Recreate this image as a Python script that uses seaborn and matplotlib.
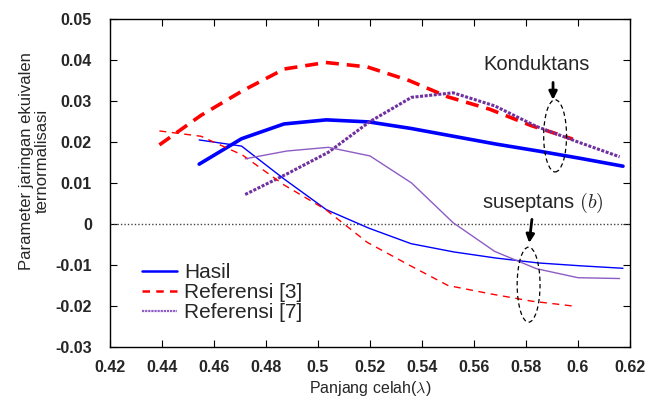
import numpy as np
import pandas as pd
import matplotlib
matplotlib.use("Agg")
import matplotlib.pyplot as plt
import seaborn as sns
from matplotlib.lines import Line2D
from matplotlib.patches import Ellipse

# ---------------- data ----------------
hasil_x = [0.4543, 0.4706, 0.4869, 0.5032, 0.5195, 0.5358, 0.5521, 0.5684, 0.5847, 0.6010, 0.6173]
hasil_g = [0.0146, 0.0208, 0.0244, 0.0254, 0.0249, 0.0233, 0.0214, 0.0195, 0.0178, 0.0160, 0.0141]
hasil_b = [0.0205, 0.0190, 0.0110, 0.0035, -0.0010, -0.0048, -0.0068, -0.0083, -0.0095, -0.0102, -0.0108]

ref3_x = [0.439, 0.455, 0.471, 0.487, 0.503, 0.519, 0.535, 0.550, 0.566, 0.582, 0.598]
ref3_g = [0.0193, 0.0265, 0.0325, 0.0378, 0.0394, 0.0383, 0.0350, 0.0310, 0.0280, 0.0240, 0.0207]
ref3_b = [0.0227, 0.0214, 0.0168, 0.0095, 0.0035, -0.0045, -0.0100, -0.0150, -0.0170, -0.0188, -0.0200]

ref7_x = [0.472, 0.488, 0.504, 0.520, 0.536, 0.552, 0.568, 0.584, 0.600, 0.616]
ref7_g = [0.0072, 0.0122, 0.0175, 0.0250, 0.0309, 0.0320, 0.0288, 0.0238, 0.0200, 0.0164]
ref7_b = [0.0159, 0.0178, 0.0187, 0.0166, 0.0100, 0.0003, -0.0067, -0.0109, -0.0131, -0.0133]

series_labels = ["Hasil", "Referensi [3]", "Referensi [7]"]
x_ticks = [0.42, 0.44, 0.46, 0.48, 0.5, 0.52, 0.54, 0.56, 0.58, 0.6, 0.62]
x_tick_labels = ["0.42", "0.44", "0.46", "0.48", "0.5", "0.52", "0.54", "0.56", "0.58", "0.6", "0.62"]
y_ticks = [-0.03, -0.02, -0.01, 0.0, 0.01, 0.02, 0.03, 0.04, 0.05]
y_tick_labels = ["-0.03", "-0.02", "-0.01", "0", "0.01", "0.02", "0.03", "0.04", "0.05"]

# ---------------- style ----------------
sns.set_style("white")
plt.rcParams["font.family"] = ["Liberation Sans", "DejaVu Sans"]
plt.rcParams["mathtext.fontset"] = "cm"

fig = plt.figure(figsize=(6.62, 4.01), dpi=100)
ax = fig.add_axes([110 / 662, 1 - 347 / 401, 520 / 662, 328 / 401])

blue = "#0000FF"
red = "#FF0000"
purple_thick = "#7030A0"
purple_thin = "#8D5CC4"

def df(x, y):
    return pd.DataFrame({"x": x, "y": y})

# zero line
ax.axhline(0, color="#444444", lw=1.0, ls=(0, (1, 1.5)), zorder=1)

# conductance (thick)
sns.lineplot(data=df(hasil_x, hasil_g), x="x", y="y", ax=ax, color=blue, lw=2.6, zorder=3)
sns.lineplot(data=df(ref3_x, ref3_g), x="x", y="y", ax=ax, color=red, lw=2.6, zorder=3)
ax.lines[-1].set_linestyle((0, (3.6, 2.2)))
sns.lineplot(data=df(ref7_x, ref7_g), x="x", y="y", ax=ax, color=purple_thick, lw=2.2, zorder=3)
ax.lines[-1].set_linestyle((0, (1, 0.5)))

# susceptance (thin)
sns.lineplot(data=df(hasil_x, hasil_b), x="x", y="y", ax=ax, color=blue, lw=1.0, zorder=3)
sns.lineplot(data=df(ref3_x, ref3_b), x="x", y="y", ax=ax, color=red, lw=1.0, zorder=3)
ax.lines[-1].set_linestyle((0, (5, 4)))
sns.lineplot(data=df(ref7_x, ref7_b), x="x", y="y", ax=ax, color=purple_thin, lw=1.0, zorder=3)

# ellipses and annotations
ax.add_patch(Ellipse((0.5912, 0.0215), 0.0088, 0.0176, fill=False, ec="black",
                     lw=0.9, ls=(0, (3.5, 2.5)), zorder=4))
ax.add_patch(Ellipse((0.5810, -0.0148), 0.0088, 0.0183, fill=False, ec="black",
                     lw=0.9, ls=(0, (3.5, 2.5)), zorder=4))
ax.annotate("", xy=(0.5904, 0.0296), xytext=(0.5904, 0.0352),
            arrowprops=dict(arrowstyle="-|>", color="black", lw=2.0, mutation_scale=12))
ax.annotate("", xy=(0.5811, -0.0053), xytext=(0.5824, 0.0018),
            arrowprops=dict(arrowstyle="-|>", color="black", lw=2.0, mutation_scale=12))
ax.text(0.5842, 0.0388, "Konduktans", ha="center", va="center", fontsize=14.5)
ax.text(0.5865, 0.0051, r"suseptans $(b)$", ha="center", va="center", fontsize=14.5)

# axes
ax.set_xlim(0.42, 0.62)
ax.set_ylim(-0.03, 0.05)
ax.set_xticks(x_ticks)
ax.set_xticklabels(x_tick_labels, fontsize=11.5, fontweight="bold")
ax.set_yticks(y_ticks)
ax.set_yticklabels(y_tick_labels, fontsize=11.5, fontweight="bold")
ax.tick_params(direction="in", length=5, width=0.8, top=True, right=True,
               bottom=True, left=True, color="black")
ax.tick_params(axis="y", pad=13)
ax.tick_params(axis="x", pad=9)
for s in ax.spines.values():
    s.set_visible(True)
    s.set_color("black")
    s.set_linewidth(1.0)
ax.set_xlabel(r"Panjang celah($\lambda$)", fontsize=11.5, labelpad=3)
ax.set_ylabel("Parameter jaringan ekuivalen\nternormalisasi", fontsize=12,
              linespacing=1.05)
ax.yaxis.set_label_coords(-0.116, 0.567)

handles = [
    Line2D([], [], color=blue, lw=1.8),
    Line2D([], [], color=red, lw=1.8, ls=(0, (3, 2.5))),
    Line2D([], [], color=purple_thin, lw=1.6, ls=(0, (1, 0.4))),
]
ax.legend(handles, series_labels, loc="lower left", bbox_to_anchor=(0.062, 0.075),
          frameon=False, fontsize=15, handlelength=1.65, handletextpad=0.35,
          labelspacing=0.05, borderpad=0, borderaxespad=0)

fig.savefig("out.png", dpi=100)
